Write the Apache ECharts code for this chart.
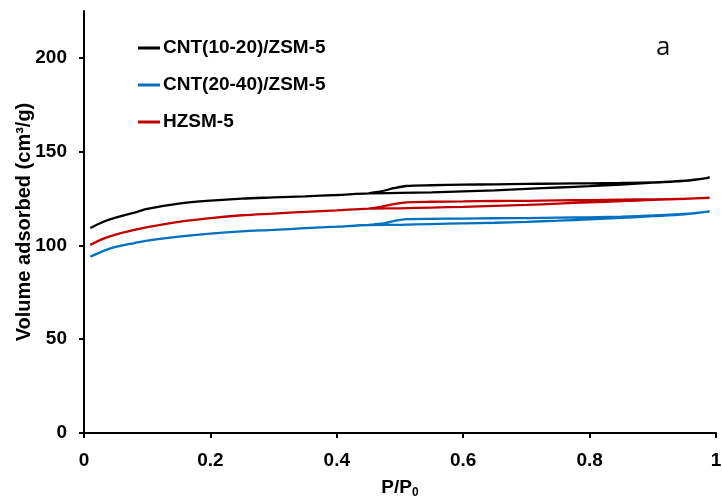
<!DOCTYPE html>
<html>
<head>
<meta charset="utf-8">
<script src="https://cdn.jsdelivr.net/npm/echarts@6/dist/echarts.min.js"></script>
<style>
  html, body { margin: 0; padding: 0; background: #fff; }
  #chart { width: 722px; height: 500px; }
</style>
</head>
<body>
<div id="chart"></div>
<script>
// N2 adsorption–desorption isotherms (adsorption branch, then desorption branch)
const seriesNames = ['CNT(10-20)/ZSM-5', 'CNT(20-40)/ZSM-5', 'HZSM-5'];

const adsP = [0.01, 0.03, 0.05, 0.08, 0.1, 0.15, 0.2, 0.25, 0.3, 0.35, 0.4, 0.45, 0.5, 0.55, 0.6, 0.65, 0.7, 0.75, 0.8, 0.85, 0.9, 0.95, 0.99];
const desP = [0.99, 0.95, 0.9, 0.85, 0.8, 0.75, 0.7, 0.65, 0.6, 0.55, 0.51, 0.49, 0.47, 0.45];

const cnt1020Ads = [109.3, 112.5, 114.8, 117.5, 119.5, 122.3, 123.9, 125.0, 125.6, 126.2, 126.9, 127.8, 128.0, 128.3, 128.8, 129.4, 130.2, 130.9, 131.6, 132.4, 133.5, 134.5, 136.2];
const cnt1020Des = [136.2, 134.4, 133.6, 133.3, 133.1, 133.0, 132.8, 132.6, 132.4, 132.1, 131.7, 130.5, 128.8, 127.8];

const cnt2040Ads = [94.0, 97.0, 99.2, 101.3, 102.6, 104.7, 106.3, 107.5, 108.3, 109.2, 110.0, 110.9, 111.0, 111.4, 111.8, 112.1, 112.6, 113.2, 113.9, 114.7, 115.6, 116.6, 118.2];
const cnt2040Des = [118.2, 116.8, 116.0, 115.4, 115.0, 114.8, 114.6, 114.5, 114.3, 114.2, 114.0, 113.0, 111.6, 110.9];

const hzsmAds = [100.3, 103.5, 105.8, 108.3, 109.8, 112.6, 114.6, 116.1, 117.0, 117.9, 118.7, 119.6, 119.8, 120.2, 120.6, 121.1, 121.6, 122.3, 123.0, 123.6, 124.3, 124.8, 125.4];
const hzsmDes = [125.4, 124.9, 124.6, 124.4, 124.2, 124.0, 123.8, 123.7, 123.5, 123.3, 123.0, 122.0, 120.6, 119.6];

const xTicks = [0, 0.2, 0.4, 0.6, 0.8, 1];
const yTicks = [0, 50, 100, 150, 200];

const colors = ['#000000', '#0070C0', '#C00000'];
const FONT = '"Liberation Sans", Arial, sans-serif';

function loop(ads, des) {
  const pts = adsP.map((p, i) => [p, ads[i]]);
  return pts.concat(desP.map((p, i) => [p, des[i]]));
}

const seriesData = [loop(cnt1020Ads, cnt1020Des), loop(cnt2040Ads, cnt2040Des), loop(hzsmAds, hzsmDes)];

const chart = echarts.init(document.getElementById('chart'), null, { renderer: 'canvas' });
chart.setOption({
  animation: false,
  backgroundColor: '#ffffff',
  grid: { left: 84, right: 6, top: 11, bottom: 67, containLabel: false, outerBoundsMode: 'none' },
  legend: {
    orient: 'vertical',
    left: 138,
    top: 38,
    padding: 0,
    icon: 'rect',
    itemWidth: 22,
    itemHeight: 3,
    itemGap: 17,
    textStyle: { fontFamily: FONT, fontWeight: 'bold', fontSize: 19, color: '#000', lineHeight: 20, padding: [0, 0, 0, -2] },
    data: seriesNames
  },
  xAxis: {
    type: 'value',
    min: 0, max: 1, interval: 0.2,
    name: 'P/P{sub|0}',
    nameLocation: 'middle',
    nameGap: 44,
    nameMoveOverlap: false,
    nameTextStyle: {
      fontFamily: FONT, fontWeight: 'bold', fontSize: 19, color: '#000',
      rich: { sub: { fontFamily: FONT, fontWeight: 'bold', fontSize: 12, verticalAlign: 'bottom', padding: [10, 0, 0, 0] } }
    },
    axisLine: { show: true, lineStyle: { color: '#000', width: 2 } },
    axisTick: { show: true, length: 5, lineStyle: { color: '#000', width: 2 }, customValues: xTicks },
    axisLabel: {
      customValues: xTicks,
      margin: 18,
      fontFamily: FONT, fontWeight: 'bold', fontSize: 19, color: '#000',
      formatter: v => String(+v.toFixed(1))
    },
    splitLine: { show: false }
  },
  yAxis: {
    type: 'value',
    min: 0, max: 225, interval: 50,
    name: 'Volume adsorbed (cm³/g)',
    nameLocation: 'middle',
    nameGap: 50,
    nameMoveOverlap: false,
    nameTextStyle: { fontFamily: FONT, fontWeight: 'bold', fontSize: 20, color: '#000' },
    axisLine: { show: true, lineStyle: { color: '#000', width: 2 } },
    axisTick: { show: true, length: 5, lineStyle: { color: '#000', width: 2 }, customValues: yTicks },
    axisLabel: {
      customValues: yTicks,
      margin: 17,
      fontFamily: FONT, fontWeight: 'bold', fontSize: 19, color: '#000'
    },
    splitLine: { show: false }
  },
  graphic: [{
    type: 'text',
    left: 656,
    top: 35,
    style: { text: 'a', font: '26px "Open Sans", sans-serif', fill: '#111' }
  }],
  series: seriesNames.map((name, i) => ({
    name,
    type: 'line',
    data: seriesData[i],
    showSymbol: false,
    symbol: 'none',
    smooth: 0.3,
    lineStyle: { color: colors[i], width: 2.3 },
    itemStyle: { color: colors[i] }
  }))
});
</script>
</body>
</html>
